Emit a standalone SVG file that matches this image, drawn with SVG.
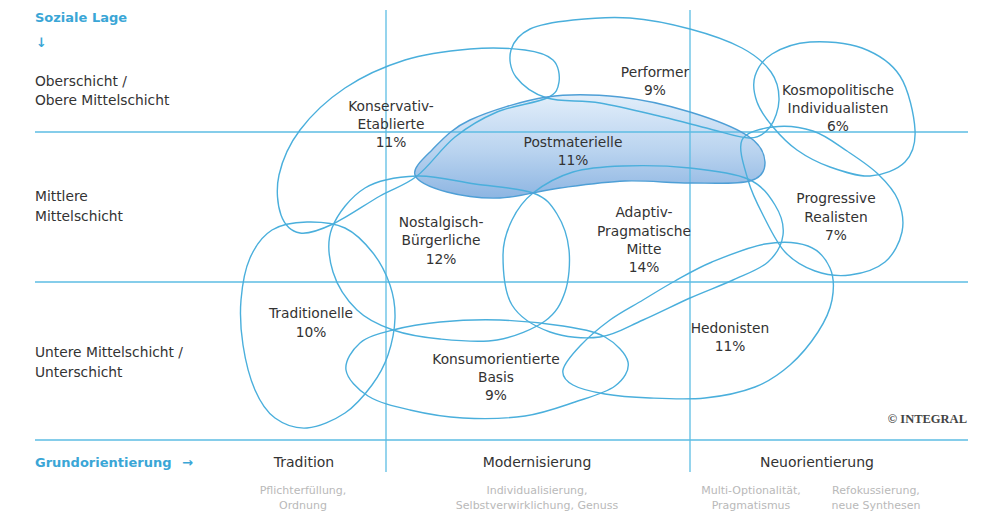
<svg xmlns="http://www.w3.org/2000/svg" width="986" height="515" viewBox="0 0 986 515">
<defs>
<linearGradient id="pmFill" x1="0" y1="0" x2="0" y2="1">
<stop offset="0" stop-color="#e2eefa"/>
<stop offset="0.55" stop-color="#b9d3ef"/>
<stop offset="1" stop-color="#8db5e2"/>
</linearGradient>
<style>
.grid{stroke:#5cbde3;stroke-width:1.3;fill:none}
.blob{stroke:#4aafdc;stroke-width:1.4;fill:none}
.lbl{font-family:"DejaVu Sans",Verdana,sans-serif;font-size:13.8px;fill:#333;text-anchor:middle}
.side{font-family:"DejaVu Sans",Verdana,sans-serif;font-size:13.8px;fill:#333}
.head{font-family:"DejaVu Sans",Verdana,sans-serif;font-size:13px;font-weight:bold;fill:#3aa6d6}
.col{font-family:"DejaVu Sans",Verdana,sans-serif;font-size:14px;fill:#333;text-anchor:middle}
.sub{font-family:"DejaVu Sans",Verdana,sans-serif;font-size:11px;fill:#b9b9b9;text-anchor:middle}
.copy{font-family:"Liberation Serif","Times New Roman",serif;font-size:12.5px;font-weight:bold;fill:#444;text-anchor:end}
</style>
</defs>
<rect width="986" height="515" fill="#ffffff"/>

<!-- Postmaterielle fill (under grid) -->
<path id="pm-fill" d="M415,175 C412.5,168 422.8,159.2 432,150 C441.2,140.8 450.8,128.8 470,120 C489.2,111.2 522,100.8 547,97 C572,93.2 596.2,94.5 620,97 C643.8,99.5 668.7,105.5 690,112 C711.3,118.5 735.5,127.7 748,136 C760.5,144.3 764.7,154.5 765,162 C765.3,169.5 762.5,177.5 750,181 C737.5,184.5 710.8,183 690,183 C669.2,183 646.7,180.2 625,181 C603.3,181.8 580.8,185.2 560,188 C539.2,190.8 518.8,197.3 500,198 C481.2,198.7 461.2,195.8 447,192 C432.8,188.2 417.5,182 415,175 Z" fill="url(#pmFill)" stroke="none"/>

<g id="grid">
<line class="grid" x1="35" y1="132" x2="968" y2="132"/>
<line class="grid" x1="35" y1="282" x2="968" y2="282"/>
<line class="grid" x1="35" y1="440" x2="968" y2="440"/>
<line class="grid" x1="386" y1="10" x2="386" y2="472"/>
<line class="grid" x1="690" y1="10" x2="690" y2="472"/>
</g>

<g id="axis-labels">
<text class="head" x="35" y="22">Soziale Lage</text>
<text class="head" x="36" y="47">↓</text>
<text class="side" x="35" y="86">Oberschicht /</text>
<text class="side" x="35" y="105">Obere Mittelschicht</text>
<text class="side" x="35" y="201">Mittlere</text>
<text class="side" x="35" y="221">Mittelschicht</text>
<text class="side" x="35" y="357">Untere Mittelschicht /</text>
<text class="side" x="35" y="377">Unterschicht</text>
<text class="head" x="35" y="467">Grundorientierung<tspan x="182">→</tspan></text>
<text class="col" x="304" y="467">Tradition</text>
<text class="col" x="537" y="467">Modernisierung</text>
<text class="col" x="817" y="467">Neuorientierung</text>
<text class="sub" x="303" y="494">Pflichterfüllung,</text>
<text class="sub" x="303" y="509">Ordnung</text>
<text class="sub" x="537" y="494">Individualisierung,</text>
<text class="sub" x="537" y="509">Selbstverwirklichung, Genuss</text>
<text class="sub" x="751" y="494">Multi-Optionalität,</text>
<text class="sub" x="751" y="509">Pragmatismus</text>
<text class="sub" x="876" y="494">Refokussierung,</text>
<text class="sub" x="876" y="509">neue Synthesen</text>
<text class="copy" x="967" y="423">© INTEGRAL</text>
</g>

<g id="konservativ-etablierte">
<path class="blob" d="M417,176 C429.5,166.2 441.7,147.7 455,137 C468.3,126.3 481.7,118.5 497,112 C512.3,105.5 536.7,103 547,98 C557.3,93 558,88.3 559,82 C560,75.7 558.7,65.3 553,60 C547.3,54.7 538.8,51.8 525,50 C511.2,48.2 490,47.3 470,49 C450,50.7 425.8,53.5 405,60 C384.2,66.5 362.5,76.3 345,88 C327.5,99.7 311,115.5 300,130 C289,144.5 282.2,160.8 279,175 C275.8,189.2 277.5,205.3 281,215 C284.5,224.7 291.3,231.5 300,233 C308.7,234.5 319.7,230.2 333,224 C346.3,217.8 366,204 380,196 C394,188 404.5,185.8 417,176 Z"/>
<text class="lbl" x="391" y="111">Konservativ-</text>
<text class="lbl" x="391" y="129">Etablierte</text>
<text class="lbl" x="391" y="147">11%</text>
</g>

<g id="performer">
<path class="blob" d="M547,98 C561,102.3 580.7,99.8 600,103 C619.3,106.2 644.7,112.7 663,117 C681.3,121.3 695.5,125.5 710,129 C724.5,132.5 740,138.3 750,138 C760,137.7 765.2,133.3 770,127 C774.8,120.7 778.8,109.2 779,100 C779.2,90.8 777.2,80.7 771,72 C764.8,63.3 755.5,55.2 742,48 C728.5,40.8 708.7,34 690,29 C671.3,24 649.5,19.5 630,18 C610.5,16.5 589.7,18.2 573,20 C556.3,21.8 540.3,24 530,29 C519.7,34 513.3,42 511,50 C508.7,58 510,69 516,77 C522,85 533,93.7 547,98 Z"/>
<text class="lbl" x="655" y="77">Performer</text>
<text class="lbl" x="655" y="95">9%</text>
</g>

<g id="kosmopolitische-individualisten">
<path class="blob" d="M773,127 C766.3,119 760,110.5 757,102 C754,93.5 752.5,84 755,76 C757.5,68 762.8,59.7 772,54 C781.2,48.3 795,43 810,42 C825,41 847,42.3 862,48 C877,53.7 891.2,62.3 900,76 C908.8,89.7 914.2,115.7 915,130 C915.8,144.3 912.5,154.3 905,162 C897.5,169.7 882.5,175.2 870,176 C857.5,176.8 842.2,171.3 830,167 C817.8,162.7 806.5,156.7 797,150 C787.5,143.3 779.7,135 773,127 Z"/>
<text class="lbl" x="838" y="95">Kosmopolitische</text>
<text class="lbl" x="838" y="113">Individualisten</text>
<text class="lbl" x="838" y="131">6%</text>
</g>

<g id="progressive-realisten">
<path class="blob" d="M742,140 C746.2,131.2 761.2,128.5 773,127 C784.8,125.5 800.7,127 813,131 C825.3,135 836.2,143.8 847,151 C857.8,158.2 869.5,165.8 878,174 C886.5,182.2 894,190.3 898,200 C902,209.7 904.2,221.7 902,232 C899.8,242.3 893.7,254.8 885,262 C876.3,269.2 861.7,273.5 850,275 C838.3,276.5 825.8,274.8 815,271 C804.2,267.2 793.7,261.3 785,252 C776.3,242.7 769.2,227 763,215 C756.8,203 751.5,192.5 748,180 C744.5,167.5 737.8,148.8 742,140 Z"/>
<text class="lbl" x="836" y="203">Progressive</text>
<text class="lbl" x="836" y="222">Realisten</text>
<text class="lbl" x="836" y="240">7%</text>
</g>

<g id="nostalgisch-buergerliche">
<path class="blob" d="M417,176 C435.3,175.3 455.7,181.2 475,184 C494.3,186.8 519.3,188 533,193 C546.7,198 551,204.5 557,214 C563,223.5 567.7,237 569,250 C570.3,263 569,280.2 565,292 C561,303.8 556.3,313 545,321 C533.7,329 514.5,337 497,340 C479.5,343 457.3,340.7 440,339 C422.7,337.3 406.8,334.8 393,330 C379.2,325.2 367,319.7 357,310 C347,300.3 337.2,285.7 333,272 C328.8,258.3 326.7,242 332,228 C337.3,214 350.8,196.7 365,188 C379.2,179.3 398.7,176.7 417,176 Z"/>
<text class="lbl" x="441" y="227">Nostalgisch-</text>
<text class="lbl" x="441" y="245">Bürgerliche</text>
<text class="lbl" x="441" y="264">12%</text>
</g>

<g id="adaptiv-pragmatische-mitte">
<path class="blob" d="M533,193 C543.2,185 558,176.5 573,172 C588,167.5 603.5,166.7 623,166 C642.5,165.3 669.2,165.8 690,168 C710.8,170.2 733.8,172.8 748,179 C762.2,185.2 769.2,195.7 775,205 C780.8,214.3 784.2,225.5 783,235 C781.8,244.5 776.3,254.5 768,262 C759.7,269.5 746,274 733,280 C720,286 705,291.3 690,298 C675,304.7 658,313.5 643,320 C628,326.5 615.5,335 600,337 C584.5,339 564.7,337.3 550,332 C535.3,326.7 519.8,317.8 512,305 C504.2,292.2 503,269.2 503,255 C503,240.8 507,230.3 512,220 C517,209.7 522.8,201 533,193 Z"/>
<text class="lbl" x="644" y="217">Adaptiv-</text>
<text class="lbl" x="644" y="236">Pragmatische</text>
<text class="lbl" x="644" y="254">Mitte</text>
<text class="lbl" x="644" y="272">14%</text>
</g>

<g id="traditionelle">
<path class="blob" d="M307,222 C319.2,221.7 334,222.8 345,228 C356,233.2 365.5,243.5 373,253 C380.5,262.5 386.3,274.2 390,285 C393.7,295.8 395.3,306.3 395,318 C394.7,329.7 391.8,343.8 388,355 C384.2,366.2 379.2,375.3 372,385 C364.8,394.7 355.8,405.8 345,413 C334.2,420.2 318.7,427.2 307,428 C295.3,428.8 283.7,424.3 275,418 C266.3,411.7 260.3,402.2 255,390 C249.7,377.8 245.3,360 243,345 C240.7,330 239.8,314.5 241,300 C242.2,285.5 244.8,269.7 250,258 C255.2,246.3 262.5,236 272,230 C281.5,224 294.8,222.3 307,222 Z"/>
<text class="lbl" x="311" y="318">Traditionelle</text>
<text class="lbl" x="311" y="337">10%</text>
</g>

<g id="konsumorientierte-basis">
<path class="blob" d="M393,330 C406.3,326.5 422.2,323.7 440,322 C457.8,320.3 479.5,319.3 500,320 C520.5,320.7 545.5,323.2 563,326 C580.5,328.8 594.2,331 605,337 C615.8,343 626.3,353.8 628,362 C629.7,370.2 623.8,379.3 615,386 C606.2,392.7 590,397 575,402 C560,407 543.7,413.3 525,416 C506.3,418.7 482.2,419 463,418 C443.8,417 425.8,413.7 410,410 C394.2,406.3 378.7,402.7 368,396 C357.3,389.3 347.3,378.8 346,370 C344.7,361.2 352.2,349.7 360,343 C367.8,336.3 379.7,333.5 393,330 Z"/>
<text class="lbl" x="496" y="364">Konsumorientierte</text>
<text class="lbl" x="496" y="382">Basis</text>
<text class="lbl" x="496" y="400">9%</text>
</g>

<g id="hedonisten">
<path class="blob" d="M563,370 C564.2,363.5 572.2,354.3 580,346 C587.8,337.7 599.5,327.7 610,320 C620.5,312.3 632.2,306.5 643,300 C653.8,293.5 663.5,287.3 675,281 C686.5,274.7 697,268.2 712,262 C727,255.8 749,246.7 765,244 C781,241.3 797.2,242 808,246 C818.8,250 826,259 830,268 C834,277 834,289.3 832,300 C830,310.7 825,321.2 818,332 C811,342.8 800.5,355.8 790,365 C779.5,374.2 769.2,381.5 755,387 C740.8,392.5 722.5,396.2 705,398 C687.5,399.8 666.7,398.7 650,398 C633.3,397.3 617.8,396.2 605,394 C592.2,391.8 580,389 573,385 C566,381 561.8,376.5 563,370 Z"/>
<text class="lbl" x="730" y="333">Hedonisten</text>
<text class="lbl" x="730" y="351">11%</text>
</g>

<g id="postmaterielle">
<path d="M415,175 C412.5,168 422.8,159.2 432,150 C441.2,140.8 450.8,128.8 470,120 C489.2,111.2 522,100.8 547,97 C572,93.2 596.2,94.5 620,97 C643.8,99.5 668.7,105.5 690,112 C711.3,118.5 735.5,127.7 748,136 C760.5,144.3 764.7,154.5 765,162 C765.3,169.5 762.5,177.5 750,181 C737.5,184.5 710.8,183 690,183 C669.2,183 646.7,180.2 625,181 C603.3,181.8 580.8,185.2 560,188 C539.2,190.8 518.8,197.3 500,198 C481.2,198.7 461.2,195.8 447,192 C432.8,188.2 417.5,182 415,175 Z" fill="none" stroke="#4e9fd6" stroke-width="1.4"/>
<text class="lbl" x="573" y="147">Postmaterielle</text>
<text class="lbl" x="573" y="165">11%</text>
</g>
</svg>
